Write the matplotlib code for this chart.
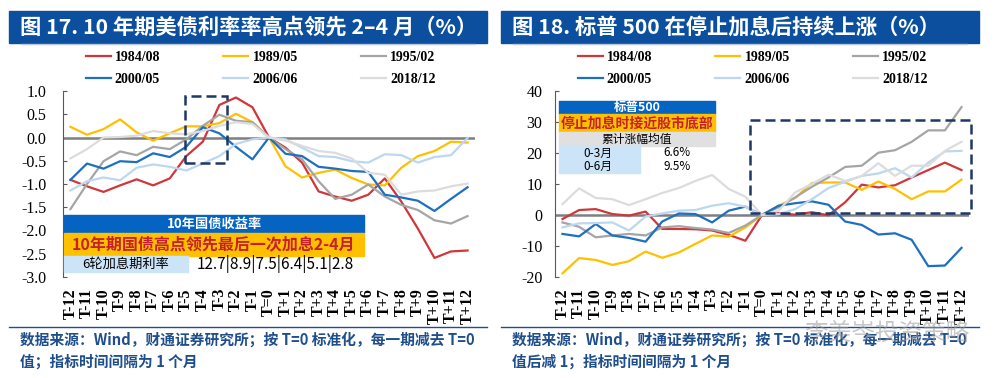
import numpy as np
import matplotlib
matplotlib.use('Agg')
import matplotlib.pyplot as plt
from matplotlib.patches import Rectangle
from matplotlib.lines import Line2D
from matplotlib.font_manager import FontProperties

plt.rcParams['font.family'] = ['Noto Sans CJK SC', 'DejaVu Sans']
plt.rcParams['axes.unicode_minus'] = False

# x categories (months around the last hike, T=0)
x_labels = ['T-12', 'T-11', 'T-10', 'T-9', 'T-8', 'T-7', 'T-6', 'T-5', 'T-4', 'T-3', 'T-2', 'T-1', 'T=0',
            'T+1', 'T+2', 'T+3', 'T+4', 'T+5', 'T+6', 'T+7', 'T+8', 'T+9', 'T+10', 'T+11', 'T+12']
series_names = ['1984/08', '1989/05', '1995/02', '2000/05', '2006/06', '2018/12']
colors = ['#D0363A', '#FFC000', '#A5A5A5', '#1D6FC2', '#BDD7EE', '#DCDCDC']

# fig 17: 10y treasury yield, minus T=0 value
yld_1984 = [-0.91, -1.05, -1.17, -1.03, -0.90, -1.03, -0.88, -0.40, -0.09, 0.70, 0.86, 0.65, 0,
            -0.22, -0.54, -1.16, -1.27, -1.36, -1.23, -0.88, -1.38, -1.96, -2.59, -2.45, -2.43]
yld_1989 = [0.23, 0.06, 0.18, 0.39, 0.11, -0.07, 0.09, 0.24, 0.24, 0.31, 0.51, 0.33, 0,
            -0.62, -0.86, -0.76, -0.69, -0.87, -1.01, -1.03, -0.65, -0.40, -0.29, -0.09, -0.11]
yld_1995 = [-1.54, -1.00, -0.51, -0.30, -0.38, -0.20, -0.25, -0.04, 0.25, 0.49, 0.36, 0.33, 0,
            -0.25, -0.47, -0.94, -1.32, -1.23, -1.01, -1.27, -1.45, -1.56, -1.78, -1.85, -1.69]
yld_2000 = [-0.91, -0.56, -0.67, -0.51, -0.53, -0.34, -0.42, -0.20, 0.22, 0.09, -0.20, -0.47, 0,
            -0.35, -0.40, -0.63, -0.67, -0.72, -0.74, -1.23, -1.29, -1.36, -1.58, -1.32, -1.07]
yld_2006 = [-1.14, -0.94, -0.86, -0.92, -0.65, -0.58, -0.63, -0.71, -0.56, -0.40, -0.14, -0.04, 0,
            -0.04, -0.22, -0.40, -0.42, -0.51, -0.54, -0.36, -0.38, -0.54, -0.42, -0.38, -0.01]
yld_2018 = [-0.45, -0.25, 0.00, 0.01, 0.04, 0.14, 0.09, 0.07, 0.14, 0.25, 0.33, 0.29, 0,
            -0.07, -0.18, -0.29, -0.33, -0.45, -0.76, -0.80, -1.23, -1.16, -1.14, -1.05, -0.99]

# fig 18: S&P 500, % vs T=0
spx_1984 = [-1.3, 1.6, 1.9, 0.3, -0.2, 1.1, -4.5, -4.5, -4.6, -5.0, -6.4, -8.3, 0,
            0.6, 0.1, 0.9, -0.1, 4.1, 9.8, 8.9, 9.6, 12.1, 14.5, 16.9, 14.5]
spx_1989 = [-18.8, -13.9, -14.5, -16.1, -14.9, -11.8, -13.8, -12.1, -9.3, -6.6, -7.0, -4.0, 0,
            3.0, 5.5, 10.3, 10.5, 10.5, 8.1, 10.8, 8.4, 5.1, 7.6, 7.6, 11.4]
spx_1995 = [-2.4, -3.8, -7.2, -6.6, -6.1, -6.6, -4.0, -3.6, -4.2, -4.7, -5.8, -3.4, 0,
            2.5, 5.7, 9.1, 12.1, 15.5, 15.9, 20.1, 20.9, 23.6, 27.3, 27.3, 34.8]
spx_2000 = [-6.1, -6.9, -2.9, -6.6, -7.4, -8.6, -2.1, 0.5, 0.3, -2.4, 1.4, 2.7, 0,
            3.0, 3.8, 4.4, 3.3, -2.1, -3.2, -6.3, -5.9, -8.0, -16.5, -16.3, -10.6]
spx_2006 = [-4.0, -2.7, -2.6, -2.4, -5.0, -0.5, 0.5, 1.4, 1.6, 3.0, 3.8, 2.7, 0,
            0.3, 1.9, 5.1, 8.7, 10.7, 12.6, 13.4, 15.1, 12.1, 16.9, 20.5, 20.7]
spx_2018 = [3.5, 8.6, 5.5, 5.1, 3.2, 5.1, 7.1, 8.7, 11.0, 12.9, 8.4, 5.9, 0,
            1.4, 7.3, 10.0, 13.0, 11.0, 12.6, 16.7, 12.6, 15.9, 15.9, 20.7, 23.6]

W, H = 1005, 378
BLUE_TITLE = '#0B4F9E'
NAVY = '#1F3864'
FOOT = '#1F4E8C'


def fx(px):
    return px / W


def fy(py):
    return 1 - py / H


fig = plt.figure(figsize=(W / 100, H / 100), dpi=100)
fig.patch.set_facecolor('white')

serif_b = FontProperties(family='Liberation Serif', weight='bold', size=10)
serif_xt = FontProperties(family='Liberation Serif', weight='bold', size=11.5)
serif = FontProperties(family='Liberation Serif', size=11.5)


def panel(left_px, right_px, ylim, yticks, yfmt, data, title, foot2, tickpad):
    x0 = left_px
    ax = fig.add_axes([fx(x0), fy(277), fx(right_px) - fx(x0), fy(91) - fy(277)])
    xs = np.arange(len(x_labels))
    handles = []
    for name, vals, c in zip(series_names, data, colors):
        h, = ax.plot(xs, vals, color=c, lw=1.6, label=name, zorder=3)
        handles.append(h)
    ax.axhline(0, color='#7F7F7F', lw=1.8, zorder=2)
    ax.set_xlim(-0.45, 24.45)
    ax.set_ylim(*ylim)
    ax.set_yticks(yticks)
    ax.set_yticklabels([yfmt(v) for v in yticks], fontproperties=serif)
    ax.set_xticks(xs)
    ax.set_xticklabels(x_labels, rotation=90, fontproperties=serif_xt)
    ax.tick_params(axis='x', length=0, pad=8)
    ax.tick_params(axis='y', direction='in', length=3, color='#595959', pad=tickpad)
    for s in ['top', 'right', 'bottom']:
        ax.spines[s].set_visible(False)
    ax.spines['left'].set_color('#595959')
    ax.set_facecolor('none')

    # legend, row-major order
    order = [0, 3, 1, 4, 2, 5]
    ax.legend([handles[i] for i in order], [series_names[i] for i in order], ncol=3,
              loc='center left', bbox_to_anchor=(fx(x0 + 10), fy(68.5)), bbox_transform=fig.transFigure,
              frameon=False, prop=serif_b, handlelength=1.8, handletextpad=0.3,
              columnspacing=4.55, labelspacing=0.6)

    # title bar
    ox = x0 - 63
    fig.patches.append(Rectangle((fx(ox + 9), fy(43)), fx(478), fy(11) - fy(43),
                                 transform=fig.transFigure, color=BLUE_TITLE, zorder=0))
    fig.lines.append(Line2D([fx(ox + 21), fx(ox + 475)], [fy(43.5), fy(43.5)],
                            transform=fig.transFigure, color='#B8C7DA', lw=1))
    fig.text(fx(ox + 20), fy(27), title, color='white', fontsize=15.3, fontweight='bold',
             va='center', ha='left')
    # footer
    fig.lines.append(Line2D([fx(ox + 9), fx(ox + 487)], [fy(327), fy(327)],
                            transform=fig.transFigure, color=FOOT, lw=1))
    fig.text(fx(ox + 20), fy(340), '数据来源：Wind，财通证券研究所；按 T=0 标准化，每一期减去 T=0',
             color=FOOT, fontsize=10.6, fontweight='bold', va='center', ha='left')
    fig.text(fx(ox + 20), fy(362), foot2, color=FOOT, fontsize=10.6, fontweight='bold',
             va='center', ha='left')
    return ax


def box(x0, y0, x1, y1, color, text=None, tcolor='black', size=9, weight='normal', tx=None):
    fig.patches.append(Rectangle((fx(x0), fy(y1)), fx(x1 - x0), fy(y0) - fy(y1),
                                 transform=fig.transFigure, color=color, zorder=5))
    if text is not None:
        cx = (x0 + x1) / 2 if tx is None else tx
        fig.text(fx(cx), fy((y0 + y1) / 2), text, color=tcolor, fontsize=size, fontweight=weight,
                 ha='center', va='center', zorder=6)


# ---- left panel
ax1 = panel(63, 475, (-3, 1), np.arange(-3, 1.01, 0.5), lambda v: f'{v:.1f}',
            [yld_1984, yld_1989, yld_1995, yld_2000, yld_2006, yld_2018],
            '图 17. 10 年期美债利率率高点领先 2–4 月（%）', '值；指标时间间隔为 1 个月', 12)
ax1.add_patch(Rectangle((6.94, -0.54), 2.53, 1.43, fill=False, ec=NAVY, lw=1.8,
                        ls=(0, (4, 2)), zorder=4))

box(64, 215, 364, 232.5, '#0563C1', '10年国债收益率', 'white', 9.5, 'bold')
box(64, 232.5, 364, 256, '#FFC000', '10年期国债高点领先最后一次加息2-4月', '#C8202A', 11.5, 'bold')
box(64, 256, 188, 272, '#CCE4F8', '6轮加息期利率', 'black', 9.5)
fig.text(fx(275), fy(264), '12.7|8.9|7.5|6.4|5.1|2.8', fontsize=11, ha='center', va='center',
         zorder=6)

# ---- right panel
ax2 = panel(555, 969, (-20, 40), np.arange(-20, 41, 10), lambda v: f'{v:d}',
            [spx_1984, spx_1989, spx_1995, spx_2000, spx_2006, spx_2018],
            '图 18. 标普 500 在停止加息后持续上涨（%）', '值后减 1；指标时间间隔为 1 个月', 9)
ax2.add_patch(Rectangle((11.3, 0.7), 13.3, 29.9, fill=False, ec=NAVY, lw=1.8,
                        ls=(0, (4, 2)), zorder=4, clip_on=False))

box(559, 101, 715, 114, '#0563C1', '标普500', 'white', 9, 'bold')
box(559, 114, 715, 132.5, '#FFC000', '停止加息时接近股市底部', '#C8202A', 10, 'bold')
box(559, 132.5, 715, 146, '#E0E0E0', '累计涨幅均值', 'black', 8.5)
box(559, 146, 640, 173, '#CCE4F8')
fig.text(fx(598), fy(153), '0-3月', fontsize=8.5, ha='center', va='center', zorder=6)
fig.text(fx(598), fy(166.5), '0-6月', fontsize=8.5, ha='center', va='center', zorder=6)
fig.text(fx(677), fy(153), '6.6%', fontsize=8.5, ha='center', va='center', zorder=6)
fig.text(fx(677), fy(166.5), '9.5%', fontsize=8.5, ha='center', va='center', zorder=6)

# watermark (overlaps the footer, as in the source image)
fig.text(fx(887), fy(333), '李美岑投资策略', fontsize=17, color='#9A9A9A', alpha=0.55,
         ha='center', va='center', zorder=7)

fig.savefig('out.png', dpi=100)
